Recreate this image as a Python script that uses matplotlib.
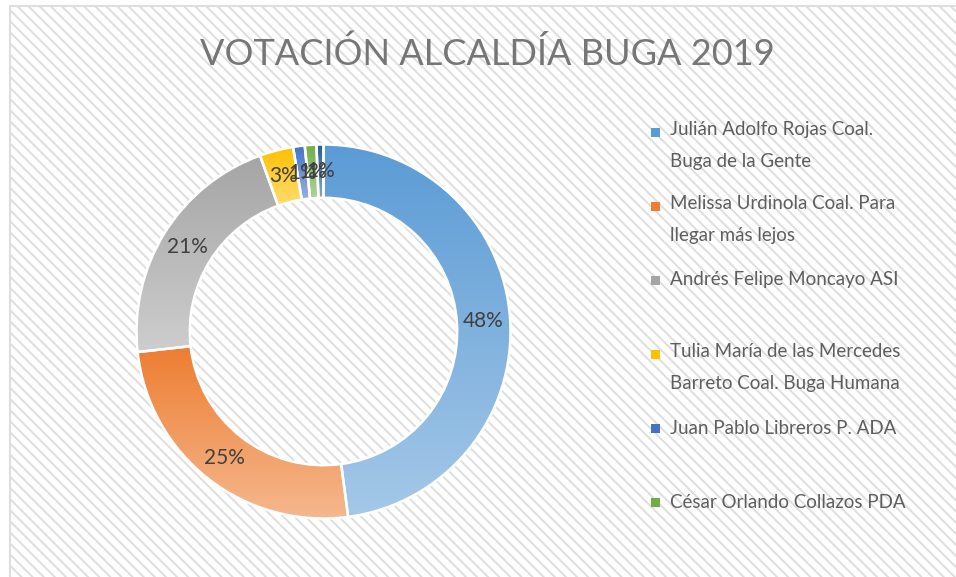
import numpy as np
import matplotlib
matplotlib.use("Agg")
import matplotlib.pyplot as plt
from matplotlib.colors import LinearSegmentedColormap, to_rgb
from matplotlib.patches import Rectangle

# ---------------- data ----------------
title = "VOTACIÓN ALCALDÍA BUGA 2019"
candidates = [
    "Julián Adolfo Rojas Coal.\nBuga de la Gente",
    "Melissa Urdinola Coal. Para\nllegar más lejos",
    "Andrés Felipe Moncayo ASI",
    "Tulia María de las Mercedes\nBarreto Coal. Buga Humana",
    "Juan Pablo Libreros P. ADA",
    "César Orlando Collazos PDA",
    "Otro",
]
shares = [47.8, 25.3, 21.2, 2.9, 1.0, 1.0, 0.6]
colors = ["#5B9BD5", "#ED7D31", "#A5A5A5", "#FFC000", "#4472C4", "#70AD47", "#255E91"]
legend_count = 6  # the legend in the reference shows only the first six

# ---------------- figure ----------------
W, H = 956, 577
plt.rcParams["hatch.linewidth"] = 1.4
fig = plt.figure(figsize=(W / 100, H / 100), dpi=100, facecolor="white")

bg = Rectangle((10 / W, -0.02), 1.0, (H - 6) / H + 0.02, transform=fig.transFigure,
               facecolor="white", edgecolor="#DEDEDE", hatch="\\\\\\",
               linewidth=1.5, zorder=-5)
fig.patches.append(bg)

# ---------------- donut ----------------
cx, cy, R = 323.5, 331.5, 187.0
half = 200.0
ax = fig.add_axes([(cx - half) / W, (H - cy - half) / H, 2 * half / W, 2 * half / H])
ax.set_zorder(2)
ax.patch.set_visible(False)

wedges, _, autotexts = ax.pie(
    shares, colors=colors, startangle=90, counterclock=False, radius=1.0,
    wedgeprops=dict(width=0.285, edgecolor="white", linewidth=1.8),
    autopct="%1.0f%%", pctdistance=0.857,
    textprops=dict(color="#404040", fontsize=15, family="Lato"),
)

grad = np.linspace(0, 1, 256).reshape(-1, 1)
for w, c in zip(wedges, colors):
    top = np.array(to_rgb(c))
    bottom = top + (1 - top) * 0.45
    cmap = LinearSegmentedColormap.from_list("g", [top, bottom])
    ext = w.get_path().get_extents()
    im = ax.imshow(grad, extent=(ext.x0, ext.x1, ext.y0, ext.y1), origin="upper",
                   cmap=cmap, aspect="auto", zorder=1.5, interpolation="bilinear")
    im.set_clip_path(w)
    w.set_facecolor("none")
    w.set_zorder(2)
for t in autotexts:
    t.set_zorder(5)

lim = half / R
ax.set_xlim(-lim, lim)
ax.set_ylim(-lim, lim)
ax.set_aspect("equal")
ax.axis("off")

# ---------------- title ----------------
fig.text(487.5 / W, 1 - 65 / H, title, ha="center", va="baseline", fontsize=26,
         color="#767676", family="Lato")

# ---------------- legend ----------------
pitch = 74.0
line_px = 30.0
for i in range(legend_count):
    yc = 132.5 + pitch * i
    fig.patches.append(Rectangle((651 / W, 1 - (yc + 4.5) / H), 9 / W, 9 / H,
                                 transform=fig.transFigure, facecolor=colors[i],
                                 edgecolor="none", zorder=3))
    nlines = candidates[i].count("\n") + 1
    base_last = yc + 5 + line_px * (nlines - 1)
    fig.text(670 / W, 1 - base_last / H, candidates[i], ha="left", va="baseline",
             fontsize=13.5, color="#5E5E5E", family="Lato", linespacing=2.1)

fig.savefig("out.png", dpi=100, facecolor="white")
